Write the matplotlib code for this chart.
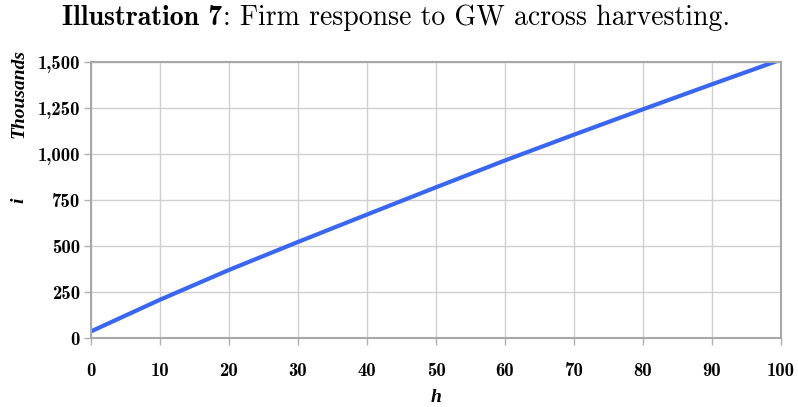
import matplotlib.pyplot as plt

plt.rcParams['font.family'] = 'cmr10'
plt.rcParams['mathtext.fontset'] = 'cm'
plt.rcParams['axes.unicode_minus'] = False

# harvesting level h and firm response i (thousands)
h_vals = [0, 10, 20, 30, 40, 50, 60, 70, 80, 90, 100]
i_vals = [36, 208, 370, 522, 671, 819, 965, 1105, 1243, 1379, 1513]

x_ticks = [0, 10, 20, 30, 40, 50, 60, 70, 80, 90, 100]
y_ticks = [0, 250, 500, 750, 1000, 1250, 1500]
y_tick_labels = ["0", "250", "500", "750", "1,000", "1,250", "1,500"]

fig = plt.figure(figsize=(7.98, 4.07), dpi=100)
ax = fig.add_axes([91 / 798, 1 - 338 / 407, (781 - 91) / 798, (338 - 62) / 407])

ax.plot(h_vals, i_vals, color="#3a66f5", linewidth=3.0, solid_capstyle="round")

ax.set_xlim(0, 100)
ax.set_ylim(0, 1500)
ax.set_xticks(x_ticks)
ax.set_xticklabels([str(t) for t in x_ticks], fontfamily="cmb10", fontsize=13.5)
ax.set_yticks(y_ticks)
ax.set_yticklabels(y_tick_labels, fontfamily="cmb10", fontsize=13.5)
ax.tick_params(axis="x", length=5, width=1, color="#b0b0b0", pad=12)
ax.tick_params(axis="y", length=5, width=1, color="#b0b0b0", pad=3)
ax.grid(True, color="#d0d0d0", linewidth=1.0)
ax.set_axisbelow(True)
for side in ["left", "bottom", "right", "top"]:
    ax.spines[side].set_color("#a8a8a8")
    ax.spines[side].set_linewidth(1.5)

# title: bold part then regular part, placed side by side
fig.canvas.draw()
r = fig.canvas.get_renderer()
t1 = fig.text(0, 1 - 18 / 407, "Illustration 7", fontfamily="cmb10",
              ha="left", va="center", fontsize=20)
t2 = fig.text(0, 1 - 18 / 407, ": Firm response to GW across harvesting.",
              ha="left", va="center", fontsize=20)
w1 = t1.get_window_extent(r).width
w2 = t2.get_window_extent(r).width
x0 = 396 - (w1 + w2) / 2
t1.set_x(x0 / 798)
t2.set_x((x0 + w1) / 798)

fig.text(436 / 798, 1 - 398 / 407, "h", ha="center", va="center",
         fontfamily="Liberation Serif", fontweight="bold", fontstyle="italic", fontsize=14)
fig.text(19 / 798, 1 - 200 / 407, "i", ha="center", va="center", rotation=90,
         fontfamily="Liberation Serif", fontweight="bold", fontstyle="italic", fontsize=14)
fig.text(19 / 798, 1 - 93 / 407, "Thousands", ha="center", va="center", rotation=90,
         fontfamily="Liberation Serif", fontweight="bold", fontstyle="italic", fontsize=14)

fig.savefig("out.png", dpi=100)
